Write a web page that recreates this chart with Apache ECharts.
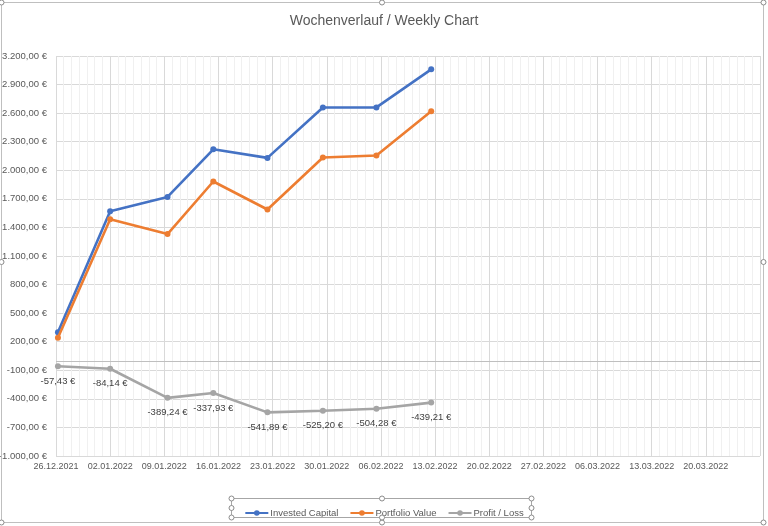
<!DOCTYPE html>
<html>
<head>
<meta charset="utf-8">
<script src="https://cdn.jsdelivr.net/npm/echarts@6/dist/echarts.min.js"></script>
<style>
html,body{margin:0;padding:0;background:#fff;}
#chart{width:768px;height:526px;}
</style>
</head>
<body>
<div id="chart"></div>
<script>
// ---- data ----
var dates = ['2021-12-26T06:00', '2022-01-02T00:00', '2022-01-09T10:00', '2022-01-15T08:00',
             '2022-01-22T08:00', '2022-01-29T12:00', '2022-02-05T10:00', '2022-02-12T12:00'];
var investedCapital = [300, 1570, 1720, 2220, 2130, 2660, 2660, 3060];
var portfolioValue = [242.57, 1485.86, 1330.76, 1882.07, 1588.11, 2134.80, 2155.72, 2620.79];
var profitLoss = [-57.43, -84.14, -389.24, -337.93, -541.89, -525.20, -504.28, -439.21];
var seriesNames = ['Invested Capital', 'Portfolio Value', 'Profit / Loss'];
var axisStartDate = '2021-12-26';
var axisEndDays = 91;      // axis runs 13 weeks
var yMin = -1000, yMax = 3200, yStep = 300;
var chartTitle = 'Wochenverlauf / Weekly Chart';

// ---- helpers ----
var DAY = 86400000;
function toUTC(s) {
  var p = s.split('T'), d = p[0].split('-'), t = (p[1] || '00:00').split(':');
  return Date.UTC(+d[0], +d[1] - 1, +d[2], +t[0], +t[1]);
}
var base = toUTC(axisStartDate);
function dayOffset(s) { return (toUTC(s) - base) / DAY; }
function pad(n) { return (n < 10 ? '0' : '') + n; }
function fmtDate(days) {
  var d = new Date(base + Math.round(days) * DAY);
  return pad(d.getUTCDate()) + '.' + pad(d.getUTCMonth() + 1) + '.' + d.getUTCFullYear();
}
function fmtEUR(v) {
  var neg = v < 0, a = Math.abs(v);
  var s = a.toFixed(2).split('.');
  var ip = s[0].replace(/\B(?=(\d{3})+(?!\d))/g, '.');
  return (neg ? '-' : '') + ip + ',' + s[1] + ' €';
}
function pairs(vals) { return vals.map(function (v, i) { return [dayOffset(dates[i]), v]; }); }

var FONT = "'Liberation Sans', Arial, sans-serif";
var TXT = '#595959';

var chart = echarts.init(document.getElementById('chart'), null, {renderer: 'canvas'});

function handles(pts) {
  return pts.map(function (p) {
    return {type: 'circle', shape: {cx: p[0], cy: p[1], r: 2.5},
            style: {fill: '#fff', stroke: '#8c8c8c', lineWidth: 1}, z: 100};
  });
}

var graphics = [
  {type: 'rect', shape: {x: 1.5, y: 2.5, width: 762, height: 520},
   style: {fill: 'none', stroke: '#bfbfbf', lineWidth: 1}, z: 99},
  {type: 'rect', shape: {x: 231.5, y: 498.5, width: 300, height: 19},
   style: {fill: 'none', stroke: '#a6a6a6', lineWidth: 1}, z: 99}
].concat(handles([[1.5, 2.5], [382, 2.5], [763.5, 2.5], [1.5, 262], [763.5, 262],
                  [1.5, 522.5], [382, 522.5], [763.5, 522.5],
                  [231.5, 498.5], [382, 498.5], [531.5, 498.5], [231.5, 508], [531.5, 508],
                  [231.5, 517.5], [382, 517.5], [531.5, 517.5]]));

var lineStyleBase = {width: 2.6};
var option = {
  animation: false,
  backgroundColor: '#ffffff',
  title: {
    text: chartTitle, left: 'center', top: 9,
    textStyle: {fontFamily: FONT, fontSize: 14, fontWeight: 'normal', color: TXT}
  },
  legend: {
    data: seriesNames, left: 'center', top: 503, itemWidth: 23, itemHeight: 7, itemGap: 11,
    textStyle: {fontFamily: FONT, fontSize: 9.5, color: TXT, padding: [0, 0, 0, -3]}
  },
  grid: {left: 56, right: 8, top: 56, bottom: 70, containLabel: false, outerBoundsMode: 'none'},
  xAxis: {
    type: 'value', min: 0, max: axisEndDays, interval: 7,
    axisLine: {show: false}, axisTick: {show: false},
    axisLabel: {
      fontFamily: FONT, fontSize: 9, color: TXT, margin: 6, showMaxLabel: false,
      formatter: function (v) { return v >= axisEndDays ? '' : fmtDate(v); }
    },
    splitLine: {show: true, lineStyle: {color: '#d9d9d9', width: 1}},
    minorTick: {show: false, splitNumber: 7},
    minorSplitLine: {show: true, lineStyle: {color: '#f0f0f0', width: 1}}
  },
  yAxis: {
    type: 'value', min: yMin, max: yMax, interval: yStep,
    axisLine: {show: false}, axisTick: {show: false},
    axisLabel: {fontFamily: FONT, fontSize: 9.5, color: TXT, margin: 9, formatter: fmtEUR},
    splitLine: {show: true, lineStyle: {color: '#d9d9d9', width: 1}}
  },
  series: [
    {name: seriesNames[0], type: 'line', data: pairs(investedCapital),
     symbol: 'circle', symbolSize: 6, color: '#4472C4', lineStyle: lineStyleBase, z: 3},
    {name: seriesNames[1], type: 'line', data: pairs(portfolioValue),
     symbol: 'circle', symbolSize: 6, color: '#ED7D31', lineStyle: lineStyleBase, z: 4},
    {name: seriesNames[2], type: 'line', data: pairs(profitLoss),
     symbol: 'circle', symbolSize: 6, color: '#A5A5A5', lineStyle: lineStyleBase, z: 3,
     label: {show: true, position: 'bottom', distance: 7, fontFamily: FONT, fontSize: 9.5, color: '#404040',
             formatter: function (p) { return fmtEUR(p.value[1]); }},
     markLine: {silent: true, symbol: 'none', animation: false, label: {show: false},
                lineStyle: {color: '#bfbfbf', type: 'solid', width: 1},
                data: [{yAxis: 0}]}}
  ],
  graphic: graphics
};
chart.setOption(option);
</script>
</body>
</html>
